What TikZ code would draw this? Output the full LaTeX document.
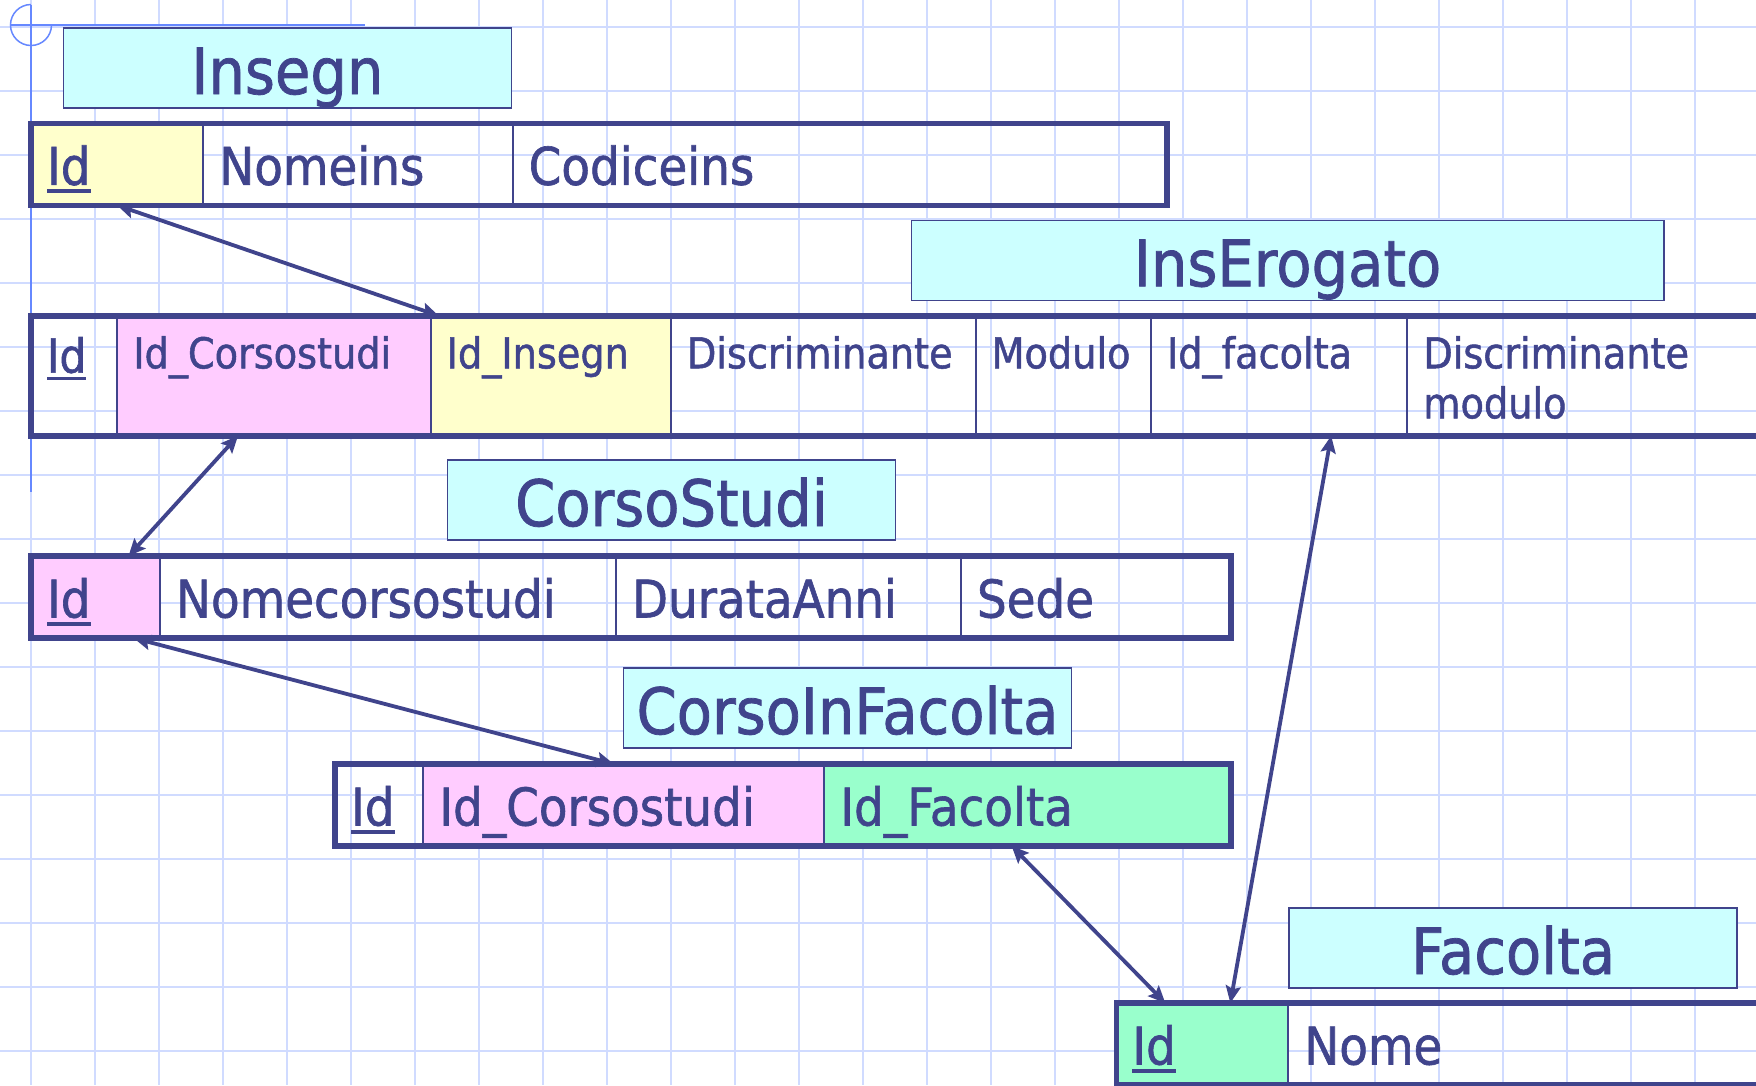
\documentclass[tikz,border=0pt]{standalone}
\usepackage{fontspec}
\setmainfont[FakeStretch=0.9, FakeBold=1.2]{DejaVu Sans}
\usepackage{xcolor}
\usetikzlibrary{arrows.meta}
\usetikzlibrary{positioning}

\definecolor{ink}{RGB}{64,68,140}
\definecolor{titlecyan}{RGB}{204,255,255}
\definecolor{keyyellow}{RGB}{255,255,204}
\definecolor{keypink}{RGB}{255,204,255}
\definecolor{keygreen}{RGB}{153,255,204}
\definecolor{gridblue}{RGB}{208,219,255}
\definecolor{markblue}{RGB}{102,136,255}

\newcommand{\keyfield}[1]{\setbox0\hbox{#1}\rlap{\rule[-0.155em]{\wd0}{0.065em}}\box0}

\begin{document}
\begin{tikzpicture}[x=1pt, y=-1pt,
    gridline/.style={gridblue, line width=2pt},
    title/.style={draw=ink, line width=1.5pt, fill=titlecyan, text=ink, anchor=north west, minimum height=80pt, minimum width=448pt, inner sep=0pt, text height=52pt, text depth=0pt, font=\fontsize{64}{76}\selectfont},
    cell/.style={draw=ink, line width=2pt, text=ink, outer sep=0pt, inner xsep=16pt, inner ysep=0pt, align=left, minimum height=82pt, text height=41pt, text depth=0pt, font=\fontsize{52}{60}\selectfont},
    erocell/.style={cell, minimum height=120pt, text height=34pt, text depth=49pt, font=\fontsize{42.5}{50}\selectfont},
    tableborder/.style={draw=ink, line width=5.5pt},
    link/.style={<->, >={Stealth[length=17pt, width=15pt, inset=3pt]}, draw=ink, line width=3.8pt}]
        \useasboundingbox (0,0) rectangle (1756,1085);
        \clip (0,0) rectangle (1756,1085);
        \fill [white] (0,0) rectangle (1756,1085);
        \foreach \i in {0,...,27} \draw [gridline] (31+64*\i,0) -- (31+64*\i,1085);
        \foreach \j in {0,...,16} \draw [gridline] (0,26.7+64*\j) -- (1756,26.7+64*\j);
        \draw [markblue, line width=1.5pt] (31,5) -- (31,492);
        \draw [markblue, line width=1.5pt] (10,25) -- (365,25);
        \draw [markblue, line width=1.5pt] (31,4.5) arc [start angle=90, end angle=360, x radius=20.5pt, y radius=20.5pt];

        \node [title] (insTitle) at (62.7,27.3) {Insegn};
        \node [cell, fill=keyyellow, anchor=north west, text width=140.3pt] (insId) at (31,123.3) {\keyfield{Id}};
        \node [cell, right=0pt of insId, text width=277.4pt] (insNome) {Nomeins};
        \node [cell, right=0pt of insNome, text width=622.3pt] (insCod) {Codiceins};
        \draw [tableborder] (insId.north west) rectangle (insCod.south east);

        \node [title, minimum width=752.4pt] (eroTitle) at (910.6,219.5) {InsErogato};
        \node [erocell, anchor=north west, text width=54.3pt, text depth=40.2pt, font=\fontsize{47}{55}\selectfont] (eroId) at (31,315.8) {\keyfield{Id}};
        \node [erocell, fill=keypink, right=0pt of eroId, text width=281.4pt] (eroCorso) {Id\_Corsostudi};
        \node [erocell, fill=keyyellow, right=0pt of eroCorso, text width=208.2pt] (eroIns) {Id\_Insegn};
        \node [erocell, right=0pt of eroIns, text width=272.6pt] (eroDisc) {Discriminante};
        \node [erocell, right=0pt of eroDisc, text width=143.5pt] (eroMod) {Modulo};
        \node [erocell, right=0pt of eroMod, text width=224.3pt] (eroFac) {Id\_facolta};
        \node [erocell, right=0pt of eroFac, text width=360.7pt] (eroDiscMod) {Discriminante\\modulo};
        \draw [tableborder] (eroId.north west) rectangle (eroDiscMod.south east);

        \node [title] (csTitle) at (446.7,459.3) {CorsoStudi};
        \node [cell, fill=keypink, anchor=north west, text width=97pt] (csId) at (31,556) {\keyfield{Id}};
        \node [cell, right=0pt of csId, text width=424pt] (csNome) {Nomecorsostudi};
        \node [cell, right=0pt of csNome, text width=313pt] (csDurata) {DurataAnni};
        \node [cell, right=0pt of csDurata, text width=238pt] (csSede) {Sede};
        \draw [tableborder] (csId.north west) rectangle (csSede.south east);

        \node [title] (cifTitle) at (622.7,667.3) {CorsoInFacolta};
        \node [cell, anchor=north west, text width=56.3pt] (cifId) at (335,764) {\keyfield{Id}};
        \node [cell, fill=keypink, right=0pt of cifId, text width=369pt] (cifCorso) {Id\_Corsostudi};
        \node [cell, fill=keygreen, right=0pt of cifCorso, text width=374.7pt] (cifFac) {Id\_Facolta};
        \draw [tableborder] (cifId.north west) rectangle (cifFac.south east);

        \node [title] (facTitle) at (1288.3,907.3) {Facolta};
        \node [cell, fill=keygreen, anchor=north west, text width=140pt] (facId) at (1116.3,1003) {\keyfield{Id}};
        \node [cell, right=0pt of facId, text width=479.7pt] (facNome) {Nome};
        \draw [tableborder] (facId.north west) rectangle (facNome.south east);

        \draw [link] (insId.south) -- ([xshift=8pt]eroIns.north west);
        \draw [link] ([xshift=-36pt]eroCorso.south) -- ([xshift=33pt]csId.north);
        \draw [link] ([xshift=38pt]csId.south) -- ([xshift=-10pt]cifCorso.north);
        \draw [link] ([xshift=-16pt]cifFac.south) -- ([xshift=-37pt]facId.north);
        \draw [link] ([xshift=52pt]eroFac.south) -- ([xshift=28pt]facId.north);
    \end{tikzpicture}
\end{document}
